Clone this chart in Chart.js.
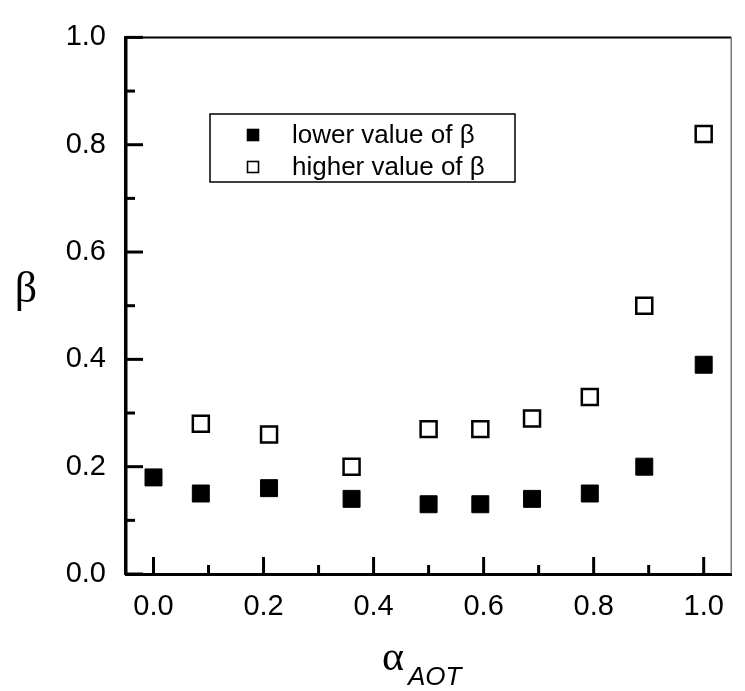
<!DOCTYPE html>
<html>
<head>
<meta charset="utf-8">
<script src="https://cdn.jsdelivr.net/npm/chart.js@4.4.1/dist/chart.umd.min.js"></script>
<style>
  html, body { margin: 0; padding: 0; background: #fff; }
  #wrap { width: 745px; height: 691px; }
</style>
</head>
<body>
<div id="wrap"><canvas id="betaChart" width="745" height="691"></canvas></div>
<script>
// values
const alphaLower = [0.0, 0.086, 0.21, 0.36, 0.5, 0.594, 0.688, 0.793, 0.892, 1.0];
const betaLower = [0.18, 0.15, 0.16, 0.14, 0.13, 0.13, 0.14, 0.15, 0.20, 0.39];
const alphaHigher = [0.086, 0.21, 0.36, 0.5, 0.594, 0.688, 0.793, 0.892, 1.0];
const betaHigher = [0.28, 0.26, 0.20, 0.27, 0.27, 0.29, 0.33, 0.50, 0.82];

const xMajorTicks = [0.0, 0.2, 0.4, 0.6, 0.8, 1.0];
const xMinorTicks = [0.1, 0.3, 0.5, 0.7, 0.9];
const yMajorTicks = [0.0, 0.2, 0.4, 0.6, 0.8, 1.0];
const yMinorTicks = [0.1, 0.3, 0.5, 0.7, 0.9];

const seriesLabels = ['lower value of \u03b2', 'higher value of \u03b2'];

const SANS = '"Liberation Sans", Arial, Helvetica, sans-serif';
const SERIF = '"Liberation Serif", "Times New Roman", serif';

// inward tick marks, thin top/right frame, axis titles and the boxed legend
const framePlugin = {
    id: 'frame',
    afterDraw(chart) {
        const { ctx, chartArea: a, scales: { x, y } } = chart;
        ctx.save();
        ctx.strokeStyle = '#000';

        // top and right frame
        ctx.lineWidth = 2;
        ctx.beginPath();
        ctx.moveTo(a.left, a.top);
        ctx.lineTo(a.right, a.top);
        ctx.stroke();
        ctx.lineWidth = 1.2;
        ctx.strokeStyle = '#555';
        ctx.beginPath();
        ctx.moveTo(a.right, a.top);
        ctx.lineTo(a.right, a.bottom);
        ctx.stroke();

        // ticks pointing into the plot
        ctx.strokeStyle = '#000';
        ctx.lineWidth = 3;
        const tick = (vals, len, axis) => {
            vals.forEach(v => {
                ctx.beginPath();
                if (axis === 'x') {
                    const px = x.getPixelForValue(v);
                    ctx.moveTo(px, a.bottom);
                    ctx.lineTo(px, a.bottom - len);
                } else {
                    const py = y.getPixelForValue(v);
                    ctx.moveTo(a.left, py);
                    ctx.lineTo(a.left + len, py);
                }
                ctx.stroke();
            });
        };
        tick(xMajorTicks, 17, 'x');
        tick(xMinorTicks, 9, 'x');
        tick(yMajorTicks, 17, 'y');
        tick(yMinorTicks, 9, 'y');

        // axis titles
        ctx.fillStyle = '#000';
        ctx.textBaseline = 'alphabetic';
        ctx.textAlign = 'center';
        ctx.font = '44px ' + SERIF;
        ctx.fillText('\u03b2', 26, (a.top + a.bottom) / 2 - 4);

        ctx.textAlign = 'left';
        ctx.font = '42px ' + SERIF;
        ctx.fillText('\u03b1', 382, 670);
        ctx.font = 'italic 26px ' + SANS;
        ctx.fillText('AOT', 408, 685);

        // legend box
        const lx = 210, ly = 114, lw = 305, lh = 68;
        ctx.lineWidth = 1.5;
        ctx.strokeRect(lx, ly, lw, lh);
        ctx.font = '26px ' + SANS;
        ctx.textBaseline = 'middle';
        chart.data.datasets.forEach((ds, i) => {
            const cy = ly + 21 + i * 32;
            const s = 11;
            ctx.fillStyle = ds.pointBackgroundColor;
            ctx.fillRect(253 - s / 2, cy - s / 2, s, s);
            ctx.lineWidth = 1.6;
            ctx.strokeStyle = ds.pointBorderColor;
            ctx.strokeRect(253 - s / 2, cy - s / 2, s, s);
            ctx.fillStyle = '#000';
            ctx.fillText(ds.label, 292, cy + 1);
        });
        ctx.restore();
    }
};

const fmt = v => Number(v).toFixed(1);

new Chart(document.getElementById('betaChart'), {
    type: 'scatter',
    data: {
        datasets: [
            {
                label: seriesLabels[0],
                data: alphaLower.map((a, i) => ({ x: a, y: betaLower[i] })),
                pointStyle: 'rect',
                pointRadius: 12,
                pointBackgroundColor: '#000',
                pointBorderColor: '#000',
                pointBorderWidth: 1,
            },
            {
                label: seriesLabels[1],
                data: alphaHigher.map((a, i) => ({ x: a, y: betaHigher[i] })),
                pointStyle: 'rect',
                pointRadius: 11.3,
                pointBackgroundColor: '#fff',
                pointBorderColor: '#000',
                pointBorderWidth: 2.5,
            }
        ]
    },
    options: {
        responsive: false,
        animation: false,
        layout: { padding: { top: 32, right: 1, left: 0, bottom: 0 } },
        plugins: { legend: { display: false }, tooltip: { enabled: false } },
        scales: {
            x: {
                type: 'linear',
                min: -0.05,
                max: 1.05,
                afterBuildTicks: s => { s.ticks = xMajorTicks.map(v => ({ value: v })); },
                afterFit: s => { s.height = 117; },
                grid: { display: false, drawTicks: false },
                border: { display: true, color: '#000', width: 3 },
                ticks: { color: '#000', padding: 16, callback: fmt, font: { family: SANS, size: 29 } }
            },
            y: {
                type: 'linear',
                min: 0,
                max: 1,
                afterBuildTicks: s => { s.ticks = yMajorTicks.map(v => ({ value: v })); },
                afterFit: s => { s.width = 126; },
                grid: { display: false, drawTicks: false },
                border: { display: true, color: '#000', width: 3.5 },
                ticks: { color: '#000', padding: 20, callback: fmt, font: { family: SANS, size: 29 } }
            }
        }
    },
    plugins: [framePlugin]
});
</script>
</body>
</html>
